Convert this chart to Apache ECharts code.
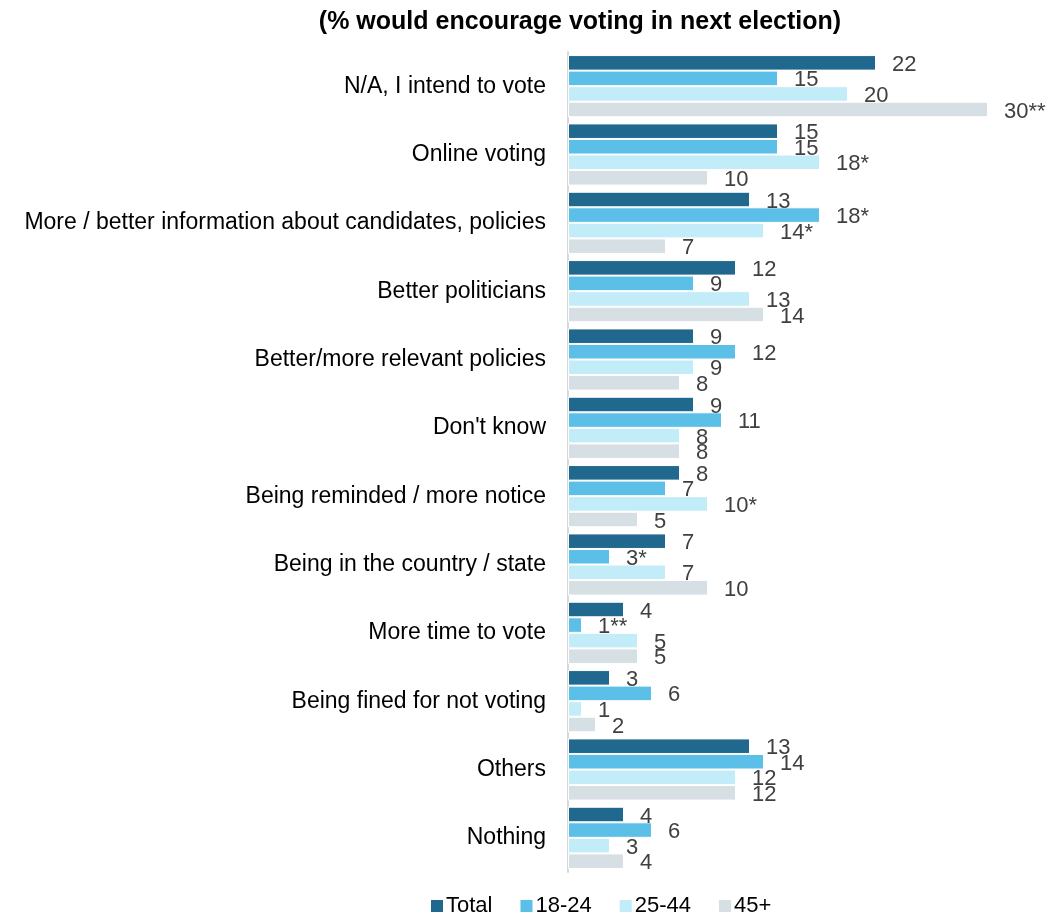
<!DOCTYPE html>
<html>
<head>
<meta charset="utf-8">
<script src="https://cdn.jsdelivr.net/npm/echarts@6/dist/echarts.min.js"></script>
<style>
  html, body { margin: 0; padding: 0; background: #fff; }
  #chart { width: 1049px; height: 914px; }
</style>
</head>
<body>
<div id="chart"></div>
<script>
// Reasons that would encourage voting at the next election, by age group (%)
const categories = [
  'N/A, I intend to vote',
  'Online voting',
  'More / better information about candidates, policies',
  'Better politicians',
  'Better/more relevant policies',
  "Don't know",
  'Being reminded / more notice',
  'Being in the country / state',
  'More time to vote',
  'Being fined for not voting',
  'Others',
  'Nothing'
];
const seriesNames = ['Total', '18-24', '25-44', '45+'];

const totalValues = [22, 15, 13, 12, 9, 9, 8, 7, 4, 3, 13, 4];
const age1824Values = [15, 15, 18, 9, 12, 11, 7, 3, 1, 6, 14, 6];
const age2544Values = [20, 18, 14, 13, 9, 8, 10, 7, 5, 1, 12, 3];
const age45Values = [30, 10, 7, 14, 8, 8, 5, 10, 5, 2, 12, 4];

// Significance markers appended to the value labels
const totalMarks = ['', '', '', '', '', '', '', '', '', '', '', ''];
const age1824Marks = ['', '', '*', '', '', '', '', '*', '**', '', '', ''];
const age2544Marks = ['', '*', '*', '', '', '', '*', '', '', '', '', ''];
const age45Marks = ['**', '', '', '', '', '', '', '', '', '', '', ''];

const colors = ['#20688d', '#5bbfe7', '#c2ecf8', '#d5dfe4'];

const allValues = [totalValues, age1824Values, age2544Values, age45Values];
const allMarks = [totalMarks, age1824Marks, age2544Marks, age45Marks];

const chart = echarts.init(document.getElementById('chart'));
const FONT = 'Liberation Sans, Arial, sans-serif';

chart.setOption({
  animation: false,
  title: {
    text: '(% would encourage voting in next election)',
    left: 575,
    textAlign: 'center',
    top: 5,
    textStyle: { fontFamily: FONT, fontSize: 25, fontWeight: 'bold', color: '#000' }
  },
  legend: {
    data: seriesNames,
    bottom: -8,
    left: 424,
    itemWidth: 14,
    itemHeight: 14,
    itemGap: 26,
    icon: 'rect',
    textStyle: { fontFamily: FONT, fontSize: 22, color: '#000', padding: [0, 0, 0, -3] }
  },
  grid: { left: 568, right: 33, top: 52, bottom: 42, containLabel: false },
  xAxis: {
    type: 'value',
    min: 0,
    max: 32,
    show: false
  },
  yAxis: {
    type: 'category',
    data: categories,
    inverse: true,
    axisLine: { show: true, lineStyle: { color: '#d9d9d9', width: 2 } },
    axisTick: { show: false },
    axisLabel: { fontFamily: FONT, fontSize: 23, color: '#000', margin: 22 }
  },
  series: seriesNames.map((name, s) => ({
    name: name,
    type: 'bar',
    barGap: '0%',
    barCategoryGap: '9%',
    itemStyle: { color: colors[s], borderColor: '#fff', borderWidth: 1 },
    label: {
      show: true,
      position: 'right',
      distance: 16,
      offset: [0, 2],
      fontFamily: FONT,
      fontSize: 22,
      color: '#404040',
      formatter: p => p.value + allMarks[s][p.dataIndex]
    },
    data: allValues[s]
  }))
});
</script>
</body>
</html>
